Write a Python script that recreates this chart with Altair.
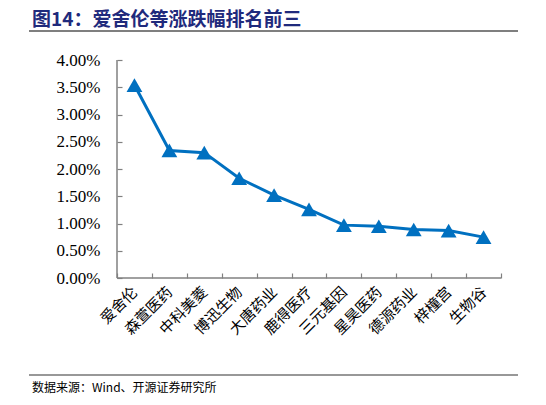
import altair as alt
import pandas as pd

BLUE = "#0070C0"
AXIS_GREY = "#808080"
TITLE_NAVY = "#1F2A7C"
CJK = "Noto Sans CJK SC"
SERIF = "Liberation Serif"

# Data
names = ["爱舍伦", "森萱医药", "中科美菱", "博迅生物", "大唐药业", "鹿得医疗",
         "三元基因", "星昊医药", "德源药业", "梓橦宫", "生物谷"]
changes = [0.0354, 0.0234, 0.0230, 0.0183, 0.0152, 0.0126,
           0.0097, 0.0095, 0.0089, 0.0087, 0.0075]
y_ticks = [0.0, 0.005, 0.01, 0.015, 0.02, 0.025, 0.03, 0.035, 0.04]

title_text = "图14：爱舍伦等涨跌幅排名前三"
source_text = "数据来源：Wind、开源证券研究所"

W, H = 384, 218

df = pd.DataFrame({"name": names, "chg": changes})

x_enc = alt.X(
    "name:N",
    sort=None,
    scale=alt.Scale(type="band", paddingInner=0, paddingOuter=0),
    axis=alt.Axis(
        title=None, domain=False, grid=False, offset=-5, tickSize=5,
        tickBand="extent", tickColor=AXIS_GREY, tickWidth=1.2,
        labelAngle=-45, labelAlign="right", labelBaseline="middle",
        labelPadding=11, labelFont=CJK, labelFontSize=15, labelColor="#000000",
        labelOverlap=False,
    ),
)
y_enc = alt.Y(
    "chg:Q",
    scale=alt.Scale(domain=[0, 0.04], nice=False, zero=True),
    axis=alt.Axis(
        title=None, values=y_ticks, format=".2%", domain=False, grid=False,
        offset=-5, tickSize=5, tickColor=AXIS_GREY, tickWidth=1.2,
        labelPadding=17, labelFont=SERIF, labelFontSize=17, labelColor="#000000",
        labelOverlap=False,
    ),
)

base = alt.Chart(df).encode(x=x_enc, y=y_enc)
line = base.mark_line(color=BLUE, strokeWidth=3)
points = base.mark_point(shape="triangle-up", filled=True, size=250, color=BLUE, opacity=1)

one = pd.DataFrame({"k": [0]})

# axis lines
y_domain = alt.Chart(one).mark_rule(color=AXIS_GREY, strokeWidth=1.5).encode(
    x=alt.value(0), y=alt.value(0), y2=alt.value(H)
)
x_domain = alt.Chart(one).mark_rule(color=AXIS_GREY, strokeWidth=1.5).encode(
    x=alt.value(0), x2=alt.value(W), y=alt.value(H)
)

# header / footer decorations
top_rule = alt.Chart(one).mark_rule(color="#000000", strokeWidth=1.2).encode(
    x=alt.value(-88), x2=alt.value(401), y=alt.value(-29)
)
bottom_rule = alt.Chart(one).mark_rule(color="#333333", strokeWidth=1.2).encode(
    x=alt.value(-88), x2=alt.value(401), y=alt.value(315)
)
title = alt.Chart(pd.DataFrame({"t": [title_text]})).mark_text(
    font=CJK, fontSize=19, fontWeight="bold", color=TITLE_NAVY,
    align="left", baseline="middle",
).encode(x=alt.value(-85), y=alt.value(-40), text="t:N")
source = alt.Chart(pd.DataFrame({"t": [source_text]})).mark_text(
    font=CJK, fontSize=12, color="#000000", align="left", baseline="middle",
).encode(x=alt.value(-85), y=alt.value(328), text="t:N")

chart = (
    alt.layer(line, points, y_domain, x_domain, top_rule, bottom_rule, title, source)
    .properties(
        width=W, height=H,
        autosize=alt.AutoSizeParams(type="none"),
        padding={"left": 109, "top": 52, "right": 37, "bottom": 119},
        background="white",
    )
    .configure_view(stroke=None)
)

chart.save("out.html", embed_options={"renderer": "svg", "actions": False})
